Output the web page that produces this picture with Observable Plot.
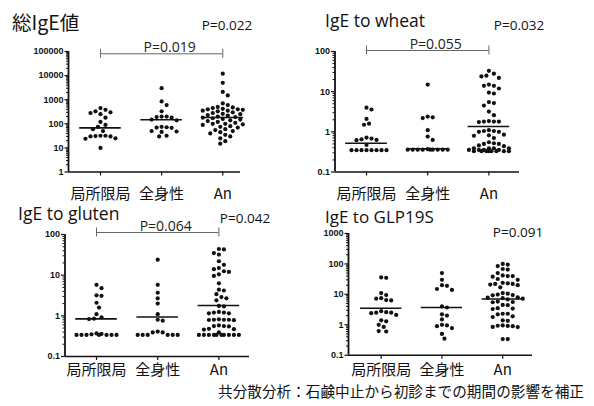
<!DOCTYPE html>
<html lang="ja"><head><meta charset="utf-8">
<script src="https://cdn.jsdelivr.net/npm/d3@7"></script>
<script src="https://cdn.jsdelivr.net/npm/@observablehq/plot@0.6"></script>
<style>
html,body{margin:0;padding:0;background:#fff;}
#page{position:relative;width:594px;height:406px;overflow:hidden;background:#fff;}
#page svg{position:absolute;overflow:visible;}
</style></head><body><div id="page"></div>
<script>
// ---- categories & labels ----
const groups = ["局所限局", "全身性", "An"];
const titles = ["総IgE値", "IgE to wheat", "IgE to gluten", "IgE to GLP19S"];
const pOverall = ["P=0.022", "P=0.032", "P=0.042", "P=0.091"];
const pPair = ["P=0.019", "P=0.055", "P=0.064", null];
const caption = "共分散分析：石鹸中止から初診までの期間の影響を補正";

// ---- y tick values ----
const ticksTotal = [1, 10, 100, 1000, 10000, 100000];
const ticksWheat = [0.1, 1, 10, 100];
const ticksGluten = [0.1, 1, 10, 100];
const ticksGLP = [0.1, 1, 10, 100, 1000];

// ---- 総IgE値 ----
const totalLocal = [450, 380, 330, 300, 280, 250, 180, 120, 90, 75, 60, 50, 32, 32, 31, 30, 30, 25, 24, 10];
const totalSystemic = [3000, 850, 600, 330, 200, 200, 190, 180, 150, 140, 75, 72, 70, 68, 50, 48, 46, 32, 30];
const totalAn = [12000, 5000, 2100, 1500, 700, 600, 500, 480, 450, 420, 400, 400, 380, 350, 350, 330, 300, 280, 260, 250, 230, 220, 200, 190, 180, 170, 160, 150, 140, 130, 120, 110, 100, 100, 95, 90, 80, 75, 70, 60, 55, 50, 45, 40, 35, 30, 25, 19, 15];
const totalMeans = [68, 147, 183];

// ---- IgE to wheat ----
const wheatLocal = [4.0, 3.6, 2.1, 1.6, 1.5, 0.72, 0.68, 0.65, 0.63, 0.62, 0.47, 0.35, 0.35, 0.35, 0.35, 0.35, 0.35, 0.35, 0.35];
const wheatSystemic = [15, 2.4, 2.3, 2.2, 1.1, 0.76, 0.63, 0.37, 0.36, 0.36, 0.36, 0.36, 0.36, 0.36, 0.36, 0.36, 0.36];
const wheatAn = [33, 28, 25, 24, 22, 15, 14, 14, 12, 9.5, 9.0, 5.5, 5.2, 4.5, 3.2, 2.6, 1.85, 1.8, 1.8, 1.8, 1.75, 1.1, 1.05, 1.05, 1.0, 1.0, 0.85, 0.82, 0.8, 0.7, 0.55, 0.52, 0.5, 0.5, 0.46, 0.44, 0.39, 0.39, 0.39, 0.39, 0.355, 0.355, 0.355, 0.355, 0.33, 0.33, 0.33, 0.33, 0.33, 0.33, 0.33, 0.33];
const wheatMeans = [0.52, 0.38, 1.36];

// ---- IgE to gluten ----
const glutenLocal = [5.8, 4.8, 3.2, 3.1, 2.1, 1.6, 1.1, 0.92, 0.85, 0.83, 0.37, 0.36, 0.35, 0.34, 0.34, 0.34, 0.34, 0.34, 0.34, 0.34];
const glutenSystemic = [24, 5.8, 3.7, 2.7, 2.0, 1.1, 0.8, 0.76, 0.41, 0.39, 0.39, 0.34, 0.34, 0.34, 0.34, 0.34, 0.34];
const glutenAn = [44, 43, 35, 32, 22, 18, 15, 14, 12.5, 12, 10.5, 9.6, 6.3, 4.4, 4.2, 3.4, 2.9, 2.7, 2.4, 1.75, 1.7, 1.25, 1.2, 1.2, 1.15, 1.15, 0.82, 0.8, 0.8, 0.79, 0.78, 0.8, 0.58, 0.56, 0.56, 0.55, 0.48, 0.47, 0.46, 0.39, 0.34, 0.34, 0.34, 0.34, 0.34, 0.34, 0.34, 0.34, 0.34, 0.34];
const glutenMeans = [0.84, 0.94, 1.8];

// ---- IgE to GLP19S ----
const glpLocal = [36, 35, 11, 9.5, 7.5, 7.2, 6.5, 6.3, 2.8, 2.6, 2.5, 2.5, 2.4, 2.1, 1.4, 1.3, 1.0, 0.85, 0.62, 0.6];
const glpSystemic = [50, 30, 20, 19, 15, 14, 4.0, 3.7, 2.2, 2.0, 1.5, 1.0, 0.95, 0.9, 0.78, 0.5, 0.35];
const glpAn = [100, 95, 85, 68, 65, 50, 42, 40, 40, 38, 32, 30, 24, 23, 22, 22, 21, 20, 17, 11, 10.5, 9.8, 9.5, 9.3, 8, 7.8, 7.5, 7.2, 6.8, 5.8, 5.6, 5.5, 4.5, 4.4, 3.5, 3.4, 3.3, 2.3, 2.3, 2.2, 1.9, 1.8, 1.4, 1.35, 0.95, 0.93, 0.92, 0.9, 0.85, 0.84, 0.34, 0.34];
const glpMeans = [3.5, 3.7, 7.0];

// ---- layout (page pixels) ----
const layouts = [
  {L: 68, R: 240, T: 51, B: 171.5, x0: 0.477, x1: 3.29, bracketDy: 2.3, labelPad: 12},
  {L: 334.5, R: 519, T: 51, B: 171.5, x0: 0.485, x1: 3.50, bracketDy: -1, labelPad: 12},
  {L: 64.5, R: 249, T: 234, B: 356, x0: 0.485, x1: 3.50, bracketDy: -2, labelPad: 4},
  {L: 348, R: 532, T: 233, B: 354.7, x0: 0.462, x1: 3.49, bracketDy: 0, labelPad: 5}
];
const panels = [
  {series: [totalLocal, totalSystemic, totalAn], means: totalMeans, ticks: ticksTotal},
  {series: [wheatLocal, wheatSystemic, wheatAn], means: wheatMeans, ticks: ticksWheat},
  {series: [glutenLocal, glutenSystemic, glutenAn], means: glutenMeans, ticks: ticksGluten},
  {series: [glpLocal, glpSystemic, glpAn], means: glpMeans, ticks: ticksGLP}
];

const LAT = "'Open Sans', 'Noto Sans CJK JP', sans-serif";
const JP = "'Noto Sans CJK JP', sans-serif";
const TICKF = "'Liberation Sans', Arial, sans-serif";
const W = 297, H = 203;
const page = document.getElementById("page");

// column-scatter layout: dodge points horizontally, columns capped in width
function swarm(values, g, ppx, pyOf, D, maxHalf) {
  const pts = values.map(v => ({v, py: pyOf(v)})).sort((a, b) => a.py - b.py);
  const placed = [];
  const step = D / 2;
  const kMax = Math.floor(maxHalf / step);
  for (const p of pts) {
    let best = null, fallback = 0, fallbackScore = -1;
    for (let k = 0; k <= kMax && best === null; k++) {
      const cands = k === 0 ? [0] : [k * step, -k * step];
      for (const c of cands) {
        let md = Infinity;
        for (const q of placed) md = Math.min(md, (q.px - c) ** 2 + (q.py - p.py) ** 2);
        if (md >= D * D * 0.999) { best = c; break; }
        if (md > fallbackScore + 1e-6) { fallbackScore = md; fallback = c; }
      }
    }
    p.px = best === null ? fallback : best;
    placed.push(p);
  }
  return pts.map(p => ({g, v: p.v, x: g + p.px / ppx}));
}

panels.forEach((p, i) => {
  const ox = (i % 2) * W, oy = Math.floor(i / 2) * H;
  const L = layouts[i];
  const ymin = p.ticks[0], ymax = p.ticks[p.ticks.length - 1];
  const lmin = Math.log10(ymin), lmax = Math.log10(ymax);
  const ppd = (L.B - L.T) / (lmax - lmin);
  const ppx = (L.R - L.L) / (L.x1 - L.x0);
  const pyOf = v => (lmax - Math.log10(v)) * ppd;
  const dots = p.series.flatMap((vals, k) => swarm(vals, k + 1, ppx, pyOf, 5, 20));
  const minors = [];
  for (let e = Math.round(lmin); e < Math.round(lmax); e++)
    for (let m = 2; m <= 9; m++) minors.push(+(m * Math.pow(10, e)).toPrecision(6));
  const meanRows = p.means.map((v, k) => ({g: k + 1, v}));
  const endF = Math.pow(10, 4.5 / ppd);
  const marks = [
    Plot.axisY({ticks: minors, tickSize: 2, tickFormat: () => "", label: null, strokeWidth: 1}),
    Plot.axisY({ticks: p.ticks, tickSize: 3.5, tickPadding: 1.5, tickFormat: d => String(d), label: null,
      fontSize: 9, fontWeight: "bold", fontFamily: TICKF, strokeWidth: 1.2}),
    Plot.axisX({ticks: [1, 2, 3], tickSize: 4, tickPadding: L.labelPad, tickFormat: d => groups[d - 1], label: null,
      fontSize: 15, fontFamily: JP, strokeWidth: 1.2}),
    Plot.ruleX([L.x0], {stroke: "#111", strokeWidth: 1.8}),
    Plot.ruleY([ymin], {stroke: "#111", strokeWidth: 1.6}),
    Plot.dot(dots, {x: "x", y: "v", r: 2.1, fill: "#111", stroke: "none"}),
    Plot.ruleY(meanRows, {y: "v", x1: d => d.g - 0.34, x2: d => d.g + 0.34, stroke: "#111", strokeWidth: 1.6})
  ];
  if (pPair[i]) {
    marks.push(Plot.ruleY([ymax], {y: d => d, x1: () => 1, x2: () => 3, dy: L.bracketDy, stroke: "#666", strokeWidth: 1}));
    marks.push(Plot.ruleX([1, 3], {x: d => d, y1: () => ymax / endF, y2: () => ymax * endF, dy: L.bracketDy, stroke: "#666", strokeWidth: 1}));
    marks.push(Plot.text([pPair[i]], {x: () => 2, y: () => ymax, text: d => d, dx: 8, dy: L.bracketDy - 1.5,
      lineAnchor: "bottom", fontSize: 14, fontFamily: LAT, fill: "#222"}));
  }
  const chart = Plot.plot({
    width: W, height: H,
    marginLeft: L.L - ox, marginRight: ox + W - L.R, marginTop: L.T - oy, marginBottom: oy + H - L.B,
    x: {type: "linear", domain: [L.x0, L.x1]},
    y: {type: "log", domain: [ymin, ymax]},
    style: {background: "transparent", color: "#111", overflow: "visible"},
    marks
  });
  chart.style.left = ox + "px";
  chart.style.top = oy + "px";
  page.appendChild(chart);
});

// titles, overall P-values, caption
const ov = d3.select(page).append("svg").attr("width", 594).attr("height", 406)
  .style("left", "0px").style("top", "0px").style("pointer-events", "none");
const titlePos = [[12, 30, JP, 19.5], [325, 27, LAT, 17.5], [18, 220, LAT, 17.5], [325, 222.5, LAT, 17]];
titles.forEach((t, i) => {
  const [x, y, f, s] = titlePos[i];
  ov.append("text").attr("x", x).attr("y", y).attr("font-family", f).attr("font-size", s).attr("fill", "#111").text(t);
});
const pPos = [[227, 30], [519, 29.5], [245, 223], [518, 237]];
pOverall.forEach((t, i) => {
  ov.append("text").attr("x", pPos[i][0]).attr("y", pPos[i][1]).attr("text-anchor", "middle")
    .attr("font-family", LAT).attr("font-size", 13.5).attr("fill", "#111").text(t);
});
ov.append("text").attr("x", 218).attr("y", 397).attr("textLength", 366).attr("lengthAdjust", "spacingAndGlyphs")
  .attr("font-family", JP).attr("font-size", 15).attr("fill", "#111").text(caption);
</script></body></html>
